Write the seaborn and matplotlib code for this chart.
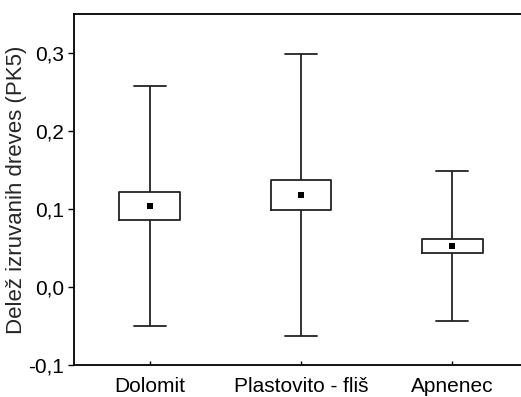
import numpy as np
import pandas as pd
import matplotlib
matplotlib.use("Agg")
import matplotlib.pyplot as plt
import seaborn as sns

# Group summaries: mean, standard error (box), standard deviation (whiskers)
categories = ["Dolomit", "Plastovito - fliš", "Apnenec"]
means = [0.104, 0.118, 0.0525]
std_errors = [0.018, 0.019, 0.0085]
std_devs = [0.154, 0.181, 0.0965]
y_ticks = [-0.1, 0.0, 0.1, 0.2, 0.3]
y_tick_labels = ["-0,1", "0,0", "0,1", "0,2", "0,3"]

# Five summary points per group so that quartiles = mean ± SE and
# extremes = mean ± SD when drawn as a box plot with whis=inf.
rows = []
for cat, m, se, sd in zip(categories, means, std_errors, std_devs):
    for v in (m - sd, m - se, m, m + se, m + sd):
        rows.append({"Podlaga": cat, "value": v})
df = pd.DataFrame(rows)
mean_df = pd.DataFrame({"Podlaga": categories, "value": means})

sns.set_style("ticks")
plt.rcParams["font.family"] = ["Liberation Sans", "DejaVu Sans"]

fig = plt.figure(figsize=(5.21, 3.97), dpi=100)
ax = fig.add_axes([74 / 521, 1 - 365 / 397, (528 - 74) / 521, (365 - 14) / 397])

line_kw = dict(color="#222222", linewidth=1.3)
sns.boxplot(
    data=df, x="Podlaga", y="value", order=categories, whis=np.inf,
    width=0.4, fill=False, color="#222222", linewidth=1.3,
    medianprops=dict(linewidth=0), capprops=line_kw, whiskerprops=line_kw,
    boxprops=line_kw, ax=ax,
)
# widen whisker caps
for line in ax.lines:
    xd = line.get_xdata()
    if len(xd) == 2 and xd[0] != xd[1]:
        c = (xd[0] + xd[1]) / 2
        yd = line.get_ydata()
        if yd[0] == yd[1]:
            line.set_xdata([c - 0.105, c + 0.105])

sns.scatterplot(data=mean_df, x="Podlaga", y="value", marker="s", s=18,
                color="black", edgecolor="black", linewidth=0, ax=ax, zorder=5)

ax.set_xlim(-0.5, 2.5)
ax.set_ylim(-0.1, 0.35)
ax.set_yticks(y_ticks)
ax.set_yticklabels(y_tick_labels)
ax.set_xlabel("")
ax.set_ylabel("Delež izruvanih dreves (PK5)", fontsize=16, labelpad=1)
ax.tick_params(axis="y", direction="out", length=4, width=1, labelsize=15, pad=3, colors="black")
ax.tick_params(axis="x", direction="in", length=3, width=1, labelsize=15, pad=9, colors="black")
for s in ax.spines.values():
    s.set_color("black")
    s.set_linewidth(1.3)

fig.savefig("out.png", dpi=100)
